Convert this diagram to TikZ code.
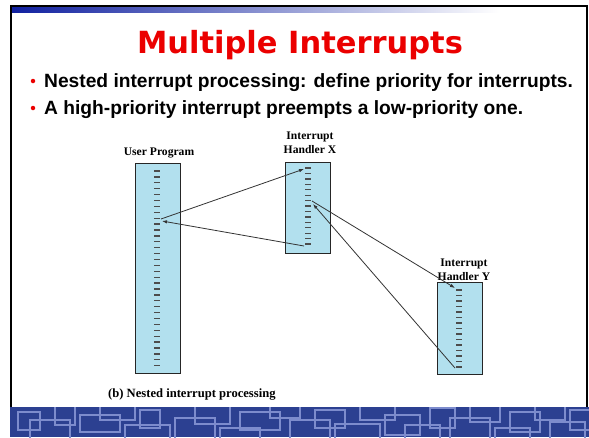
\documentclass[tikz,border=0pt]{standalone}
\usepackage{fontspec}
\setmainfont{Liberation Serif}
\setsansfont{Liberation Sans}
\newfontfamily\titlefont{DejaVu Sans}
\usetikzlibrary{arrows.meta}
\definecolor{boxblue}{RGB}{178,224,238}
\definecolor{topblue}{RGB}{16,32,160}
\definecolor{bandblue}{RGB}{44,64,145}
\definecolor{bandline}{RGB}{125,140,205}
\definecolor{titlered}{RGB}{235,0,0}
\tikzset{
        progbox/.style={draw=black!85,fill=boxblue,line width=1pt,minimum width=45pt,inner sep=0pt},
        tick/.style={black!70,line width=1.3pt},
        lbl/.style={inner sep=0pt,align=center,font=\fontsize{11.6}{14}\selectfont\bfseries},
        arr/.style={black!80,line width=0.8pt},
        bullettext/.style={inner sep=0pt,font=\sffamily\bfseries\fontsize{19.2}{22}\selectfont},
        dot/.style={circle,fill=titlered,inner sep=0pt,minimum size=4.5pt}
    }
\begin{document}
\begin{tikzpicture}[x=1pt,y=-1pt,>={Latex[length=5pt,width=3.5pt]}]
\useasboundingbox (0,0) rectangle (589,437);
\fill[white] (0,0) rectangle (589,437);

\shade[left color=topblue,right color=white] (11,7) rectangle (500,12.5);
\draw[line width=2pt] (10.5,410) -- (10.5,5.5) -- (587,5.5) -- (587,410);

\fill[bandblue] (10,407) rectangle (589,437);
\begin{scope}
\clip (10,407) rectangle (589,437);
\foreach \a/\b/\c/\d in {18/412/40/430,30/420/70/445,55/406/75/425,80/415/120/432,100/405/135/420,
        125/425/170/445,140/410/160/428,175/418/215/440,195/406/230/424,220/428/260/445,
        240/412/280/430,270/405/300/418,290/420/330/445,315/410/345/428,335/424/380/445,
        360/406/395/420,385/415/420/435,405/425/440/445,430/408/455/428,450/418/490/440,
        470/406/500/422,495/428/530/445,510/412/540/432,535/405/565/420,550/422/585/445,570/410/595/430}
    \draw[bandline,line width=1.2pt] (\a,\b) rectangle (\c,\d);
\end{scope}

\draw (300,53) node(TITLE)[anchor=base,inner sep=0pt,text=titlered,font=\titlefont\bfseries\fontsize{30.5}{34}\selectfont]{Multiple Interrupts};

\draw (33,81) node(D1)[dot]{};
\draw (44,87) node(B1)[anchor=base west,bullettext]{Nested interrupt processing: define priority for interrupts.};
\draw (33,108) node(D2)[dot]{};
\draw (44,114) node(B2)[anchor=base west,bullettext]{A high-priority interrupt preempts a low-priority one.};

\draw (157.5,268) node(USER)[progbox,minimum height=210pt]{};
\draw (308,207.5) node(HX)[progbox,minimum height=91pt]{};
\draw (459.5,328) node(HY)[progbox,minimum height=92pt]{};

\foreach \i in {0,...,33} \draw[tick] (154,171+5.9*\i) -- ++(6,0);
\foreach \i in {0,...,14} \draw[tick] (305,168+5.43*\i) -- ++(6,0);
\foreach \i in {0,...,14} \draw[tick] (456,290+5.5*\i) -- ++(6,0);

\draw (159,148) node(ULBL)[lbl,anchor=north]{User Program};
\draw (310,131.5) node(XLBL)[lbl,anchor=north]{Interrupt\\Handler X};
\draw (464,259) node(YLBL)[lbl,anchor=north]{Interrupt\\Handler Y};
\draw (108,397) node(CAP)[anchor=base west,inner sep=0pt,font=\fontsize{12.6}{15}\selectfont\bfseries]{(b) Nested interrupt processing};

\coordinate (U1) at (161,219);
\coordinate (U2) at (162,221);
\coordinate (XT) at (304,169);
\coordinate (XB) at (304,246);
\coordinate (X1) at (312,201);
\coordinate (X2) at (313,204);
\coordinate (YT) at (455,288);
\coordinate (YB) at (455,368);

\draw[arr,->] (U1) -- (XT);
\draw[arr,->] (XB) -- (U2);
\draw[arr,->] (X1) -- (YT);
\draw[arr,->] (YB) -- (X2);

\end{tikzpicture}
\end{document}
